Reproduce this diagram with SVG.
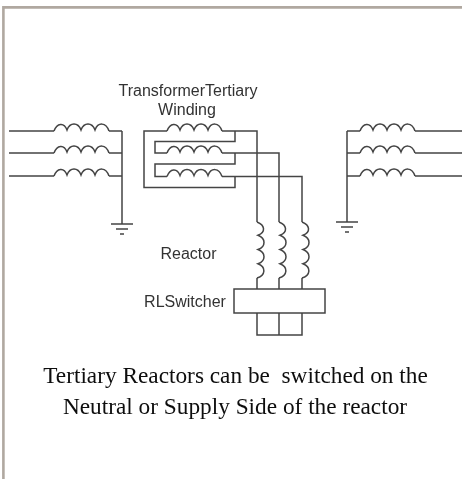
<svg xmlns="http://www.w3.org/2000/svg" width="462" height="479" viewBox="0 0 462 479">
<style>
.w{fill:none;stroke:#444;stroke-width:1.5}
.s{font-family:"Liberation Sans",Arial,sans-serif;font-size:16px;fill:#333}
.t{font-family:"Liberation Serif","Times New Roman",serif;font-size:23.300px;fill:#111}
</style>
<defs>
<filter id="b" x="-5%" y="-5%" width="110%" height="110%"><feGaussianBlur stdDeviation="0.6"/></filter>
<path id="coil" class="w" d="M0 0C3-8 10-9 13-1C16-9 24-9 27-1C30-9 38-9 41-1C44-9 52-9 55 0"/>
<path id="gnd" class="w" d="M-11 0H11M-6 5H6M-2 10H2"/>
</defs>
<rect width="462" height="479" fill="#fff"/>
<path d="M3.400 479V7.400H462" fill="none" stroke="#b0a8a0" stroke-width="2.600"/>
<g filter="url(#b)">
<g id="connectors">
<path class="w" d="M9 131H54M9 153H54M9 176H54M109 131H122M109 153H122M109 176H122M122 131V224"/>
<path class="w" d="M167 131H144V187.500H235V176.500M222 131H257V222M235 131V141.500H155V153H167M222 153H279V222M235 153V164H155V176.500H167M222 176.500H302V222"/>
<path class="w" d="M257 278V289M279 278V289M302 278V289M257 313V335H302V313M279 313V335"/>
<path class="w" d="M347 131V222M347 131H360M347 153H360M347 176H360M415 131H462M415 153H462M415 176H462"/>
</g>
<g id="source-left">
<use href="#coil" x="54" y="131"/><use href="#coil" x="54" y="153"/><use href="#coil" x="54" y="176"/>
<use href="#gnd" x="122" y="224"/>
</g>
<g id="transformer-tertiary">
<use href="#coil" x="167" y="131"/><use href="#coil" x="167" y="153"/><use href="#coil" x="167" y="176.500"/>
<text class="s" x="188" y="96" text-anchor="middle">TransformerTertiary</text>
<text class="s" x="187" y="115" text-anchor="middle">Winding</text>
</g>
<g id="reactor">
<use href="#coil" transform="translate(257 222) rotate(90) scale(1.02 1)"/>
<use href="#coil" transform="translate(279 222) rotate(90) scale(1.02 1)"/>
<use href="#coil" transform="translate(302 222) rotate(90) scale(1.02 1)"/>
<text class="s" x="188.500" y="259" text-anchor="middle">Reactor</text>
</g>
<g id="rlswitcher">
<rect class="w" x="234" y="289" width="91" height="24"/>
<text class="s" x="185" y="307" text-anchor="middle">RLSwitcher</text>
</g>
<g id="source-right">
<use href="#coil" x="360" y="131"/><use href="#coil" x="360" y="153"/><use href="#coil" x="360" y="176"/>
<use href="#gnd" x="347" y="222"/>
</g>
<g id="caption">
<text class="t" x="235.500" y="383" text-anchor="middle" xml:space="preserve">Tertiary Reactors can be  switched on the</text>
<text class="t" x="235" y="413.500" text-anchor="middle">Neutral or Supply Side of the reactor</text>
</g>
</g>
</svg>
